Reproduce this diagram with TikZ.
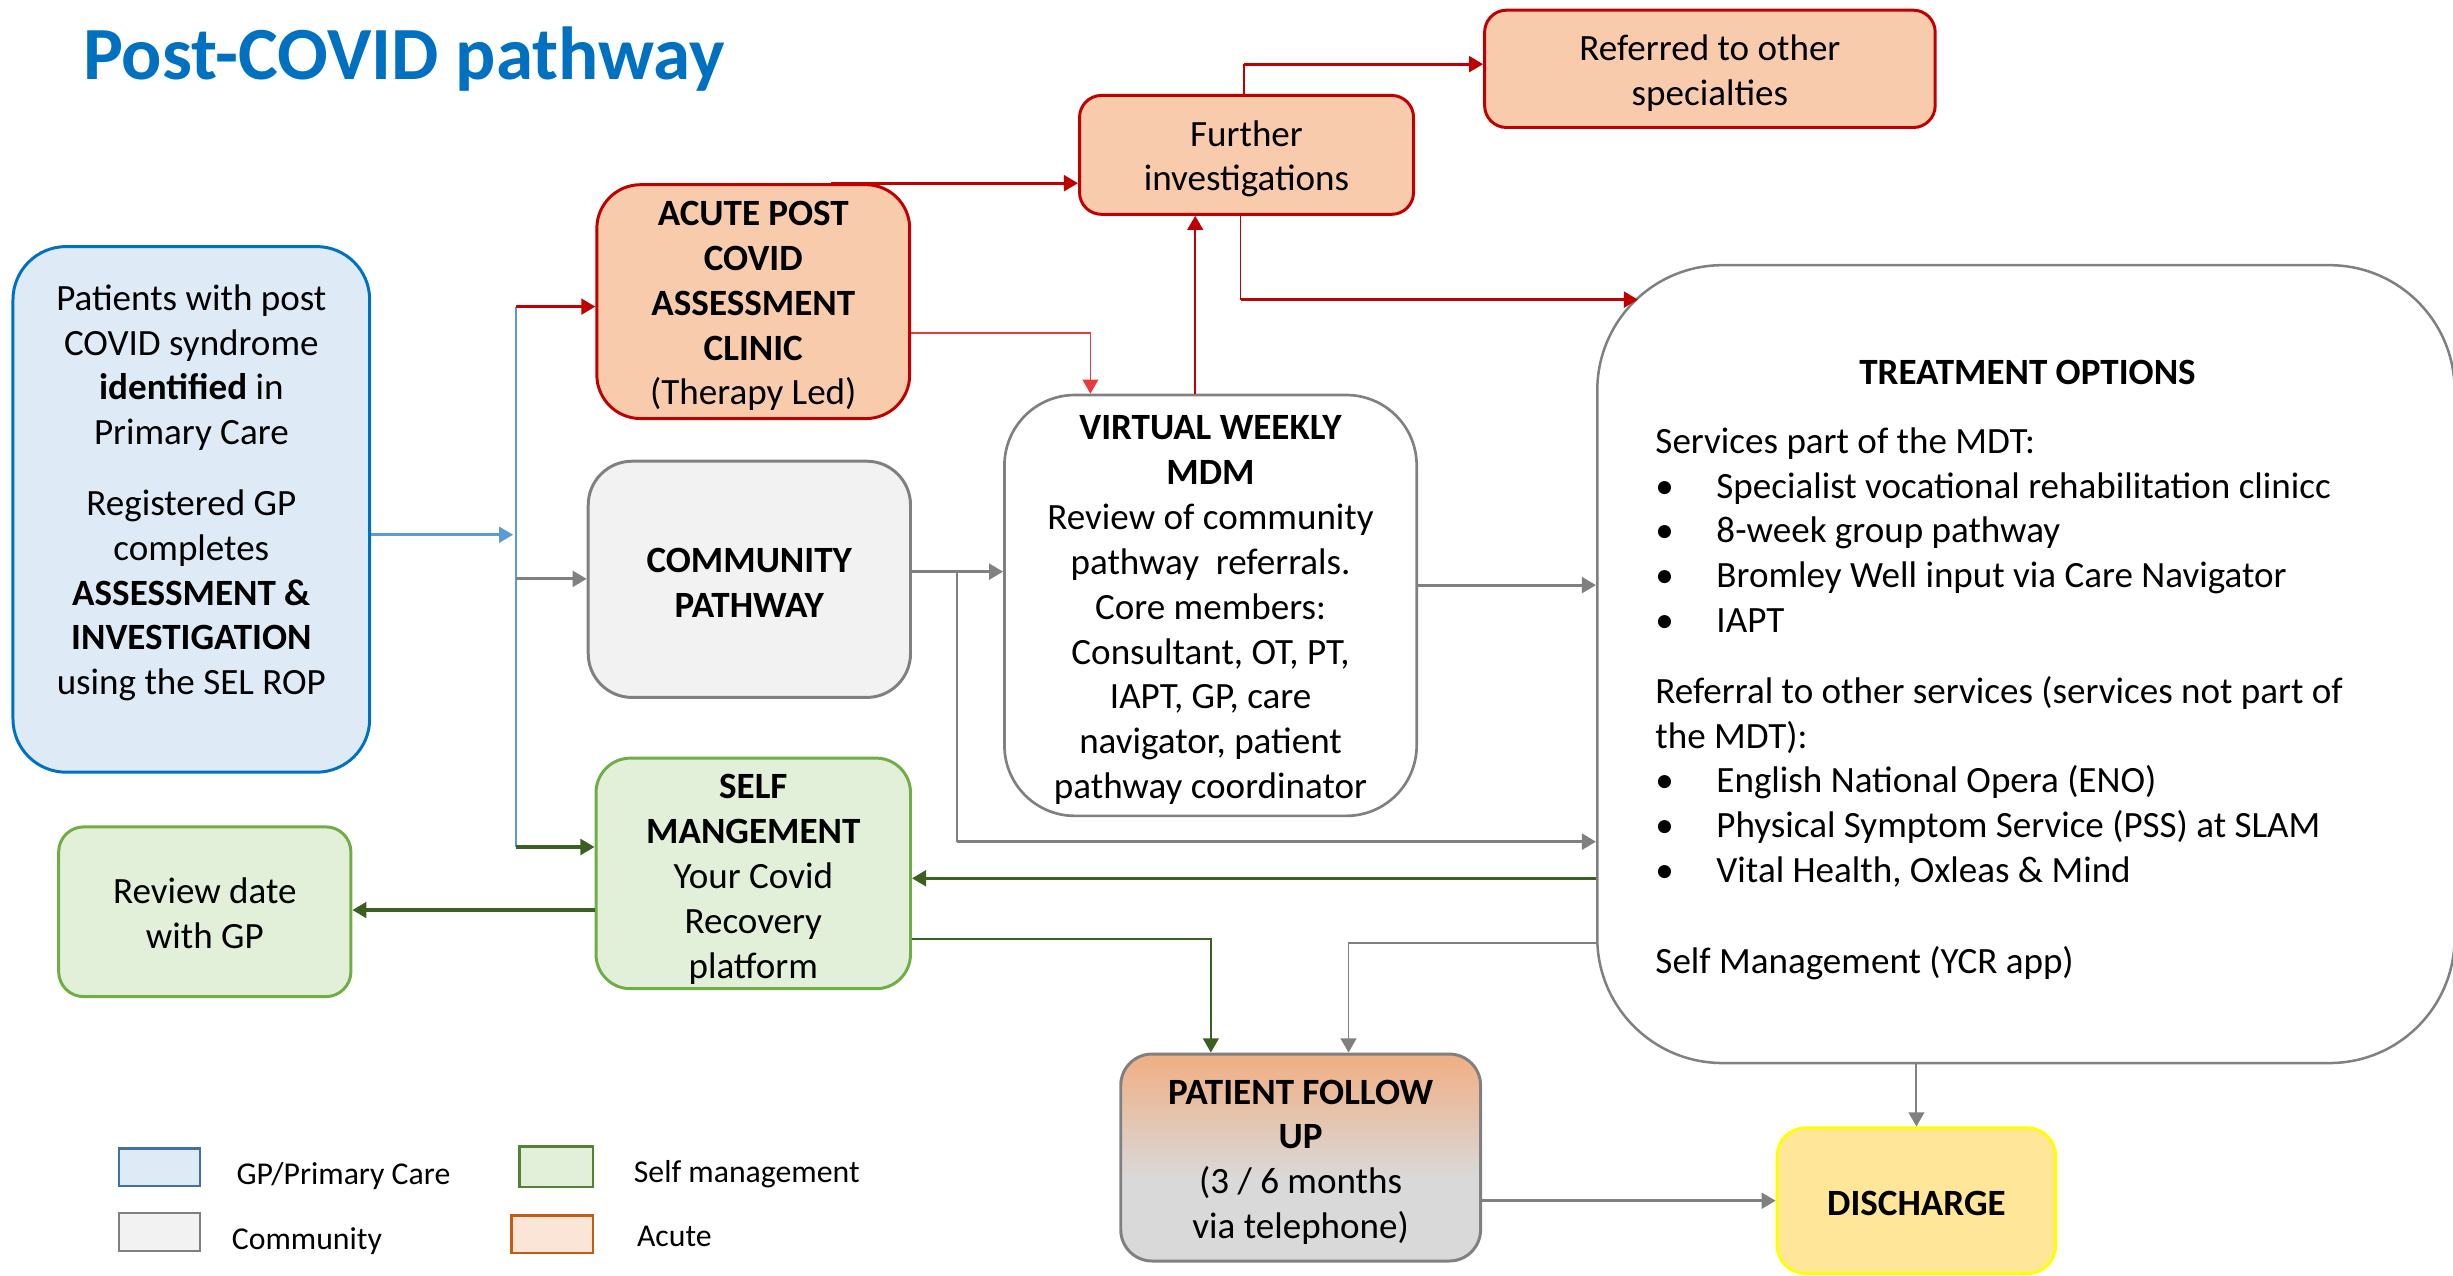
\documentclass[tikz,border=0pt]{standalone}
\usepackage{fontspec}
\setmainfont{Carlito}
\usetikzlibrary{arrows.meta,calc}
\definecolor{titleblue}{HTML}{0070C0}
\definecolor{gpline}{HTML}{0070C0}
\definecolor{gpfill}{HTML}{DEEBF7}
\definecolor{acline}{HTML}{C00000}
\definecolor{acfill}{HTML}{F8CBAD}
\definecolor{coline}{HTML}{808080}
\definecolor{cofill}{HTML}{F2F2F2}
\definecolor{smline}{HTML}{70AD47}
\definecolor{smfill}{HTML}{E2F0D9}
\definecolor{dsline}{HTML}{FFFF00}
\definecolor{dsfill}{HTML}{FFE699}
\definecolor{fuorange}{HTML}{F1AE82}
\definecolor{fugray}{HTML}{D9D9D9}
\definecolor{arrred}{HTML}{C00000}
\definecolor{arrredl}{HTML}{E83C3C}
\definecolor{arrgray}{HTML}{808080}
\definecolor{arrgreen}{HTML}{3B6122}
\definecolor{arrblue}{HTML}{5B9BD5}
\definecolor{lgbline}{HTML}{41719C}
\definecolor{lggline}{HTML}{7F7F7F}
\definecolor{lgsline}{HTML}{548235}
\definecolor{lgaline}{HTML}{C55A11}
\definecolor{lgafill}{HTML}{FBE5D6}
\pgfdeclareverticalshading{fushade}{100bp}{color(0bp)=(fugray); color(45bp)=(fugray); color(75bp)=(fuorange); color(100bp)=(fuorange)}
\newcommand{\bulit}{\makebox[39pt][l]{\textbullet}}
\tikzset{
  body/.style={font=\fontsize{23.7}{28.7}\selectfont, align=center, inner sep=0pt},
  boxbase/.style={inner sep=0pt, line width=1.9pt},
  gpbox/.style={boxbase, draw=gpline, fill=gpfill},
  acbox/.style={boxbase, draw=acline, fill=acfill},
  cobox/.style={boxbase, draw=coline, fill=cofill},
  wbox/.style={boxbase, draw=coline, fill=white, line width=1.7pt},
  smbox/.style={boxbase, draw=smline, fill=smfill},
  fubox/.style={boxbase, draw=coline, shading=fushade},
  dsbox/.style={boxbase, draw=dsline, fill=dsfill},
  lgbox/.style={draw, line width=1.6pt, minimum width=50pt, minimum height=24pt, inner sep=0pt},
  lgtext/.style={font=\fontsize{20.3}{24}\selectfont, anchor=base west, inner sep=0pt},
  tip/.style={-{Triangle[length=9pt,width=10pt]}},
  redc/.style={tip, draw=arrred, line width=2pt},
  redthin/.style={draw=arrred, line width=1pt},
  redthinc/.style={tip, draw=arrredl, line width=1pt},
  redmc/.style={tip, draw=arrred, line width=1.5pt},
  grayc/.style={tip, draw=arrgray, line width=2pt},
  graythin/.style={draw=arrgray, line width=1pt},
  graythinc/.style={tip, draw=arrgray, line width=1.2pt},
  greenc/.style={tip, draw=arrgreen, line width=2pt},
  greenthinc/.style={tip, draw=arrgreen, line width=1.2pt},
  bluec/.style={tip, draw=arrblue, line width=1.8pt},
  bluethin/.style={draw=arrblue, line width=1pt}
}
\begin{document}
\begin{tikzpicture}[x=1pt,y=-1pt]
\useasboundingbox (0,0) rectangle (1568,815);
\fill[white] (0,0) rectangle (1568,815);

% title
\node[font=\fontsize{48}{56}\selectfont\bfseries, text=titleblue, anchor=base west, inner sep=0pt] (title) at (53,50.7) {Post-COVID pathway};

% boxes
\node[gpbox, rounded corners=34pt, minimum width=228pt, minimum height=336pt] (pat) at (122.3,325.6) {};
\node[body] (pat-t) at (122.3,315) {Patients with post\\ COVID syndrome\\ \textbf{identified} in\\ Primary Care\\[16.3pt] Registered GP\\ completes\\ \textbf{ASSESSMENT \&}\\ \textbf{INVESTIGATION}\\ using the SEL ROP};

\node[acbox, rounded corners=28pt, minimum width=200pt, minimum height=149.5pt] (acute) at (481.5,192.8) {};
\node[body] (acute-t) at ($(acute)+(0,2.8)$) {\textbf{ACUTE POST}\\ \textbf{COVID}\\ \textbf{ASSESSMENT}\\ \textbf{CLINIC}\\ (Therapy Led)};

\node[acbox, rounded corners=14pt, minimum width=213.5pt, minimum height=76pt] (further) at (796.8,99) {};
\node[body] (further-t) at ($(further)+(0,2.5)$) {Further\\ investigations};

\node[acbox, rounded corners=14pt, minimum width=288pt, minimum height=75pt] (referred) at (1093,44) {};
\node[body] (referred-t) at ($(referred)+(0,2.5)$) {Referred to other\\ specialties};

\node[cobox, rounded corners=28pt, minimum width=206pt, minimum height=151pt] (comm) at (479,370.3) {};
\node[body] (comm-t) at ($(comm)+(0,2)$) {\textbf{COMMUNITY}\\ \textbf{PATHWAY}};

\node[wbox, rounded corners=45pt, minimum width=263.5pt, minimum height=269pt] (mdm) at (773.8,387) {};
\node[body] (mdm-t) at ($(mdm)+(0,3)$) {\textbf{VIRTUAL WEEKLY}\\ \textbf{MDM}\\ Review of community\\ pathway~ referrals.\\ Core members:\\ Consultant, OT, PT,\\ IAPT, GP, care\\ navigator, patient\\ pathway coordinator};

\node[wbox, line width=1.6pt, rounded corners=80pt, minimum width=548pt, minimum height=510pt] (treat) at (1295,424.5) {};
\node[body, font=\fontsize{23.7}{28.7}\selectfont\bfseries] (treat-h) at (1296,238) {TREATMENT OPTIONS};
\node[body, align=left, anchor=north west] (treat-l) at (1058,273) {Services part of the MDT:\\ \bulit Specialist vocational rehabilitation clinicc\\ \bulit 8-week group pathway\\ \bulit Bromley Well input via Care Navigator\\ \bulit IAPT\\[16.3pt] Referral to other services (services not part of\\ the MDT):\\ \bulit English National Opera (ENO)\\ \bulit Physical Symptom Service (PSS) at SLAM\\ \bulit Vital Health, Oxleas \& Mind\\[29.3pt] Self Management (YCR app)};

\node[smbox, rounded corners=22pt, minimum width=201pt, minimum height=147.4pt] (self) at (481.5,558.3) {};
\node[body] (self-t) at ($(self)+(0,3.8)$) {\textbf{SELF}\\ \textbf{MANGEMENT}\\ Your Covid\\ Recovery\\ platform};

\node[smbox, rounded corners=16pt, minimum width=186.8pt, minimum height=108.5pt] (review) at (130.9,582.8) {};
\node[body] (review-t) at ($(review)+(0,1.2)$) {Review date\\ with GP};

\node[fubox, rounded corners=20pt, minimum width=230pt, minimum height=132.3pt] (fu) at (831.4,739.9) {};
\node[body] (fu-t) at ($(fu)+(0,3)$) {\textbf{PATIENT FOLLOW}\\ \textbf{UP}\\ (3 / 6 months\\ via telephone)};

\node[dsbox, rounded corners=18pt, minimum width=178pt, minimum height=93pt] (dis) at (1225,767.5) {};
\node[body] (dis-t) at ($(dis)+(0,2)$) {\textbf{DISCHARGE}};

% legend
\node[lgbox, draw=lgbline, fill=gpfill, minimum width=52pt] (lg1) at (102,746) {};
\node[lgtext] (lg1-t) at (151,757) {GP/Primary Care};
\node[lgbox, draw=lggline, fill=cofill, minimum width=52pt] (lg2) at (102,787.5) {};
\node[lgtext] (lg2-t) at (148,798.5) {Community};
\node[lgbox, draw=lgsline, fill=smfill, minimum width=47pt, minimum height=26pt] (lg3) at (355.5,745.8) {};
\node[lgtext] (lg3-t) at (405,756) {Self management};
\node[lgbox, draw=lgaline, fill=lgafill, minimum width=52pt, minimum height=24pt] (lg4) at (353,789) {};
\node[lgtext] (lg4-t) at (407,797) {Acute};

% junction coordinates
\coordinate (jt) at (330,196);
\coordinate (jm) at (330,370);
\coordinate (jb) at (330,541.4);
\coordinate (jblue) at (328,341.8);
\coordinate (r2) at (697,213);
\coordinate (r3) at (764,200);
\coordinate (r4) at (795,41);
\coordinate (r5) at (793,191.5);
\coordinate (tin) at (1047,191.5);
\coordinate (g1) at (611.7,365.4);
\coordinate (g2) at (611.7,538);
\coordinate (g3) at (960,374);
\coordinate (g4) at (862,602.5);
\coordinate (gr1) at (800,561.4);
\coordinate (gr2) at (300,581.7);
\coordinate (gr3) at (774,600);

% connectors
\draw[bluethin] (jt) -- (jb);
\draw[bluec] (pat.east |- jblue) -- (jblue);
\draw[redc] (jt) -- (jt -| acute.west);
\draw[grayc] (jm) -- (jm -| comm.west);
\draw[greenc] (jb) -- (jb -| self.west);

\draw[redc] ([xshift=50pt]acute.north) -- (acute.north -| further.west);
\draw[redthinc] (acute.east |- r2) -| (r2 |- mdm.north);
\draw[redmc] (r3 |- mdm.north) -- (r3 |- further.south);
\draw[redthin] (r4 |- further.north) -- (r4);
\draw[redc] (r4) -- (r4 -| referred.west);
\draw[redthin] (r5 |- further.south) -- (r5);
\draw[redc] (r5) -- (tin);

\draw[grayc] (comm.east |- g1) -- (g1 -| mdm.west);
\draw[graythin] (g1) -- (g2);
\draw[grayc] (g2) -- (g2 -| treat.west);
\draw[grayc] (mdm.east |- g3) -- (g3 -| treat.west);

\draw[greenc] (gr1 -| treat.west) -- (gr1 -| self.east);
\draw[greenc] (gr2 -| self.west) -- (gr2 -| review.east);
\draw[greenthinc] (self.east |- gr3) -| (gr3 |- fu.north);
\draw[graythinc] (treat.west |- g4) -- (g4) -- (g4 |- fu.north);
\draw[graythinc] (treat.south -| dis.north) -- (dis.north);
\draw[grayc] (fu.east |- dis.west) -- (dis.west);
\end{tikzpicture}
\end{document}
